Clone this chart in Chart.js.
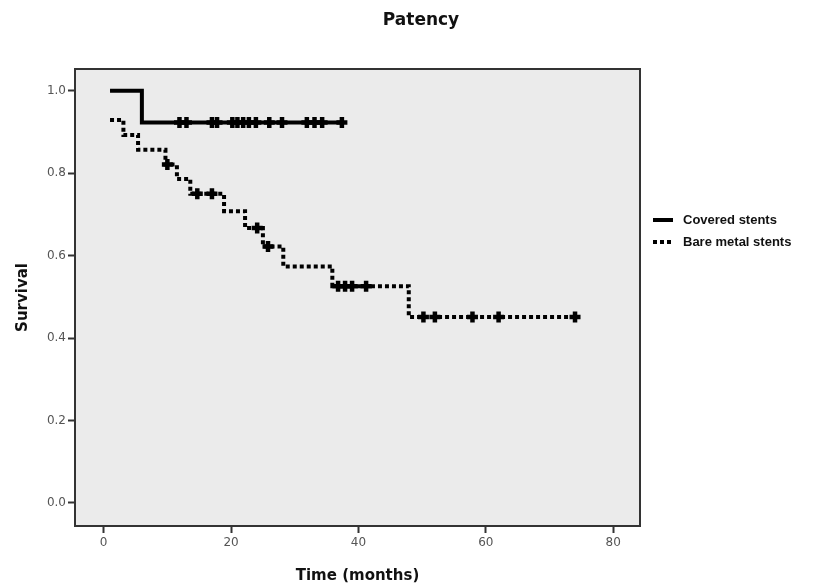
<!DOCTYPE html>
<html><head><meta charset="utf-8">
<script src="https://cdn.jsdelivr.net/npm/chart.js@4.4.1/dist/chart.umd.min.js"></script>
<style>html,body{margin:0;padding:0;background:#fff;}</style>
</head><body>
<canvas id="c" width="828" height="587"></canvas>
<script>
// ---- text ----
const chartTitle = 'Patency';
const xTitle = 'Time (months)';
const yTitle = 'Survival';
const seriesNames = ['Covered stents', 'Bare metal stents'];

// ---- ticks ----
const xTicks = [0, 20, 40, 60, 80];
const yTicks = [0.0, 0.2, 0.4, 0.6, 0.8, 1.0];

// ---- Covered stents (Kaplan-Meier steps) ----
const coveredTime = [1.0, 6.0, 37.4];
const coveredSurv = [1.0, 0.923, 0.923];
const coveredCensorTime = [11.9, 13.0, 17.0, 17.8, 20.2, 21.0, 21.9, 22.8, 23.9, 26.0, 28.0, 31.9, 33.1, 34.3, 37.4];
const coveredCensorSurv = [0.923, 0.923, 0.923, 0.923, 0.923, 0.923, 0.923, 0.923, 0.923, 0.923, 0.923, 0.923, 0.923, 0.923, 0.923];

// ---- Bare metal stents (Kaplan-Meier steps) ----
const bareTime = [1.0, 3.1, 5.4, 9.7, 11.5, 13.6, 18.9, 22.2, 25.0, 28.2, 35.9, 47.9, 74.0];
const bareSurv = [0.929, 0.893, 0.857, 0.821, 0.786, 0.750, 0.708, 0.667, 0.622, 0.574, 0.526, 0.451, 0.451];
const bareCensorTime = [10.0, 14.7, 17.0, 24.1, 25.8, 36.8, 37.9, 39.0, 41.2, 50.2, 52.0, 57.9, 62.0, 74.0];
const bareCensorSurv = [0.821, 0.750, 0.750, 0.667, 0.622, 0.526, 0.526, 0.526, 0.526, 0.451, 0.451, 0.451, 0.451, 0.451];

const pts = (xs, ys) => xs.map((x, i) => ({x: x, y: ys[i]}));

const bgPlugin = {
  id: 'bg',
  beforeDraw(chart) {
    const {ctx, chartArea: a} = chart;
    ctx.save();
    ctx.fillStyle = '#ffffff';
    ctx.fillRect(0, 0, chart.width, chart.height);
    ctx.fillStyle = '#ebebeb';
    ctx.fillRect(a.left, a.top, a.right - a.left, a.bottom - a.top);
    ctx.restore();
  },
  afterDraw(chart) {
    const {ctx, chartArea: a} = chart;
    ctx.save();
    ctx.strokeStyle = '#333333';
    ctx.lineWidth = 2;
    ctx.strokeRect(a.left, a.top, a.right - a.left, a.bottom - a.top);
    // title
    ctx.font = 'bold 17px "DejaVu Sans", sans-serif';
    ctx.textAlign = 'center';
    ctx.textBaseline = 'middle';
    ctx.fillStyle = '#111';
    ctx.fillText(chartTitle, 421, 21);
    // legend
    const lx = a.right + 13, rows = [a.top + 151, a.top + 173];
    const dashes = [[], [4, 3]];
    ctx.font = 'bold 13px "Liberation Sans", Arial, sans-serif';
    ctx.textAlign = 'left';
    ctx.textBaseline = 'middle';
    seriesNames.forEach((name, i) => {
      ctx.beginPath();
      ctx.setLineDash(dashes[i]);
      ctx.lineWidth = 4;
      ctx.strokeStyle = '#000';
      ctx.moveTo(lx, rows[i]);
      ctx.lineTo(lx + 20, rows[i]);
      ctx.stroke();
      ctx.setLineDash([]);
      ctx.fillText(name, lx + 30, rows[i]);
    });
    ctx.restore();
  }
};

const censorStyle = {
  showLine: false, pointStyle: 'cross', pointRadius: 5.5, pointBorderWidth: 4.5,
  pointBorderColor: '#000', pointBackgroundColor: '#000', borderColor: '#000'
};

new Chart(document.getElementById('c'), {
  type: 'line',
  data: {
    datasets: [
      { label: seriesNames[0], data: pts(coveredTime, coveredSurv), stepped: true,
        borderColor: '#000', borderWidth: 4, pointRadius: 0, fill: false },
      { label: seriesNames[1], data: pts(bareTime, bareSurv), stepped: true,
        borderColor: '#000', borderWidth: 4, borderDash: [4, 3], borderCapStyle: 'butt', pointRadius: 0, fill: false },
      Object.assign({ label: 'c1', data: pts(coveredCensorTime, coveredCensorSurv) }, censorStyle),
      Object.assign({ label: 'c2', data: pts(bareCensorTime, bareCensorSurv) }, censorStyle)
    ]
  },
  options: {
    responsive: false, animation: false,
    layout: { padding: { left: 0, right: 188, top: 69, bottom: 0 } },
    plugins: {
      legend: { display: false },
      tooltip: { enabled: false },
      title: { display: false }
    },
    scales: {
      x: {
        type: 'linear', min: -4.5, max: 84.2,
        afterBuildTicks: (s) => { s.ticks = xTicks.map(v => ({ value: v })); },
        afterFit: (s) => { s.height = 61; },
        grid: { drawOnChartArea: false, drawTicks: true, tickLength: 7, tickWidth: 2, tickColor: '#333' },
        border: { display: false },
        ticks: { color: '#555', font: { family: 'DejaVu Sans', size: 12 }, padding: 3 },
        title: { display: true, text: xTitle, color: '#111',
          font: { family: 'DejaVu Sans', weight: 'bold', size: 15 }, padding: { top: 0, bottom: 2 } }
      },
      y: {
        type: 'linear', min: -0.056, max: 1.053,
        afterBuildTicks: (s) => { s.ticks = yTicks.map(v => ({ value: v })); },
        afterFit: (s) => { s.width = 75; },
        grid: { drawOnChartArea: false, drawTicks: true, tickLength: 7, tickWidth: 2, tickColor: '#333' },
        border: { display: false },
        ticks: { color: '#555', font: { family: 'DejaVu Sans', size: 12 }, padding: 2,
          callback: (v) => Number(v).toFixed(1) },
        title: { display: true, text: yTitle, color: '#111',
          font: { family: 'DejaVu Sans', weight: 'bold', size: 15 }, padding: { top: 14, bottom: 0 } }
      }
    }
  },
  plugins: [bgPlugin]
});
</script>
</body></html>
